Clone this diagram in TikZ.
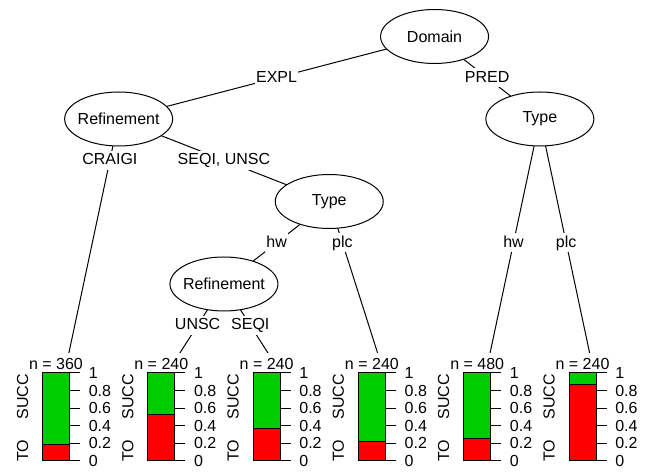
\documentclass[tikz,border=0pt]{standalone}
\usepackage{fontspec}
\setmainfont{Liberation Sans}
\usetikzlibrary{shapes.geometric,backgrounds}
\definecolor{barred}{RGB}{255,0,0}
\definecolor{bargreen}{RGB}{0,205,0}
\begin{document}
\begin{tikzpicture}[x=0.75pt,y=-0.75pt,
  font=\fontsize{12}{14}\selectfont,
  innernode/.style={ellipse, draw, fill=white, line width=0.75pt,
    minimum width=81pt, minimum height=40.5pt, inner sep=0pt},
  elab/.style={fill=white, inner xsep=0.75pt, inner ysep=0.75pt,
    text height=10.1pt, text depth=3pt},
  edgeline/.style={line width=0.75pt},
  nlab/.style={fill=white, inner sep=0pt, text height=12pt, text depth=2.25pt, anchor=base},
  ticklab/.style={anchor=west, inner sep=0pt},
  sidelab/.style={rotate=90, inner sep=0pt},
  barframe/.style={draw=black, line width=0.75pt}]
\useasboundingbox (0,0) rectangle (651,473);

% inner nodes
\node[innernode] (dom)    at (434.55,36.5) {\makebox[0pt]{Domain}};
\node[innernode] (ref2)   at (118.65,119)  {\makebox[0pt]{Refinement}};
\node[innernode] (type5)  at (329.25,201.5){\makebox[0pt]{Type}};
\node[innernode] (ref6)   at (223.95,284)  {\makebox[0pt]{Refinement}};
\node[innernode] (type10) at (539.85,119)  {\makebox[0pt]{Type}};

% terminal attachment points
\foreach \i in {1,...,6}{
  \coordinate (t\i) at ({66+105.3*(\i-1)},366.5);
}

% edges
\begin{scope}[on background layer]
\draw[edgeline] (dom.center) -- node[elab] {EXPL} (ref2.center);
\draw[edgeline] (dom.center) -- node[elab] {PRED} (type10.center);
\draw[edgeline] (ref2.center) -- node[elab, pos=0.1667] {CRAIGI} (t1);
\draw[edgeline] (ref2.center) -- node[elab] {SEQI, UNSC} (type5.center);
\draw[edgeline] (type5.center) -- node[elab] {hw} (ref6.center);
\draw[edgeline] (type5.center) -- node[elab, pos=0.25] {plc} (t4);
\draw[edgeline] (ref6.center) -- node[elab] {UNSC} (t2);
\draw[edgeline] (ref6.center) -- node[elab] {SEQI} (t3);
\draw[edgeline] (type10.center) -- node[elab] {hw} (t5);
\draw[edgeline] (type10.center) -- node[elab] {plc} (t6);
\end{scope}

% terminal panels
\foreach \i/\f/\n in {1/0.182/360, 2/0.534/240, 3/0.364/240, 4/0.227/240, 5/0.25/480, 6/0.864/240}{
  \pgfmathsetmacro\bc{56+105.3*(\i-1)}
  \node[nlab] (n\i) at (\bc,369.3) {n = \n};
  \fill[bargreen] (\bc-13.5,373) rectangle (\bc+13.5,461);
  \fill[barred] (\bc-13.5,{461-88*\f}) rectangle (\bc+13.5,461);
  \draw[line width=0.75pt] (\bc-13.5,{461-88*\f}) -- (\bc+13.5,{461-88*\f});
  \draw[barframe] (\bc-13.5,373) rectangle (\bc+13.5,461);
  \foreach \v in {0,0.2,0.4,0.6,0.8,1}{
    \draw[line width=0.75pt] (\bc+13.5,{461-88*\v}) -- (\bc+24,{461-88*\v});
  }
  \node[ticklab] at (\bc+32.5,461) {0};
  \node[ticklab] at (\bc+32.5,443.4) {0.2};
  \node[ticklab] at (\bc+32.5,425.8) {0.4};
  \node[ticklab] at (\bc+32.5,408.2) {0.6};
  \node[ticklab] at (\bc+32.5,390.6) {0.8};
  \node[ticklab] at (\bc+32.5,373) {1};
  \node[sidelab] at (\bc-33.5,397) {SUCC};
  \node[sidelab] at (\bc-33.5,451) {TO};
}
\end{tikzpicture}
\end{document}
